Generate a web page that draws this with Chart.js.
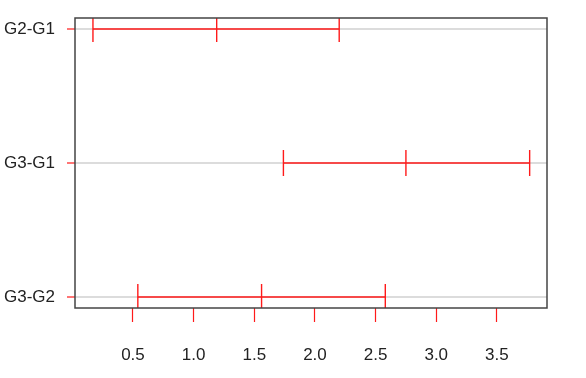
<!DOCTYPE html>
<html>
<head>
<meta charset="utf-8">
<script src="https://cdn.jsdelivr.net/npm/chart.js@4.4.0/dist/chart.umd.min.js"></script>
<style>
  html, body { margin: 0; padding: 0; background: #fff; }
  #wrap { width: 586px; height: 378px; }
</style>
</head>
<body>
<div id="wrap"><canvas id="tukey-chart"></canvas></div>
<script>
// comparisons and interval values (lower, diff, upper)
var comparisons = ["G2-G1", "G3-G1", "G3-G2"];
var lower = [0.17, 1.74, 0.54];
var diff = [1.19, 2.75, 1.56];
var upper = [2.20, 3.77, 2.58];
var xTicks = [0.5, 1.0, 1.5, 2.0, 2.5, 3.0, 3.5];

var red = "#ff1a1a";
var fontFam = "'Liberation Sans', Arial, sans-serif";

var datasets = comparisons.map(function (name, i) {
  return {
    label: name,
    data: [
      { x: lower[i], y: i },
      { x: diff[i], y: i },
      { x: upper[i], y: i },
    ],
    showLine: true,
    borderColor: red,
    borderWidth: 1.6,
    pointStyle: "line",
    pointRotation: 90,
    pointRadius: 13,
    pointHoverRadius: 13,
    pointBorderColor: red,
    pointBorderWidth: 1.4,
  };
});

// full box round the plot
var boxPlugin = {
  id: "plotBox",
  afterDraw: function (chart) {
    var a = chart.chartArea;
    var ctx = chart.ctx;
    ctx.save();
    ctx.strokeStyle = "#444";
    ctx.lineWidth = 1.5;
    ctx.strokeRect(a.left, a.top, a.right - a.left, a.bottom - a.top);
    ctx.restore();
  },
};

var ctx = document.getElementById("tukey-chart").getContext("2d");
var myTukeyChart = new Chart(ctx, {
  type: "scatter",
  data: { datasets: datasets },
  plugins: [boxPlugin],
  options: {
    responsive: true,
    maintainAspectRatio: false,
    animation: false,
    layout: { padding: { top: 18, right: 39, bottom: 0, left: 0 } },
    plugins: {
      legend: { display: false },
      tooltip: { enabled: false },
    },
    scales: {
      x: {
        type: "linear",
        min: 0.022,
        max: 3.913,
        afterBuildTicks: function (scale) {
          scale.ticks = xTicks.map(function (v) { return { value: v }; });
        },
        afterFit: function (scale) {
          scale.height = 70;
          scale.paddingLeft = 0;
          scale.paddingRight = 0;
        },
        grid: {
          drawOnChartArea: false,
          tickColor: red,
          tickLength: 14,
          tickWidth: 1.2,
        },
        border: { display: false },
        ticks: {
          padding: 23,
          color: "#222",
          font: { family: fontFam, size: 17 },
          callback: function (v) { return Number(v).toFixed(1); },
        },
      },
      y: {
        type: "linear",
        reverse: true,
        min: -0.082,
        max: 2.082,
        afterBuildTicks: function (scale) {
          scale.ticks = comparisons.map(function (c, i) { return { value: i }; });
        },
        afterFit: function (scale) {
          scale.width = 75;
          scale.paddingTop = 0;
          scale.paddingBottom = 0;
        },
        grid: {
          color: "#dcdcdc",
          lineWidth: 2,
          tickColor: red,
          tickLength: 8,
          tickWidth: 1.2,
        },
        border: { display: false },
        ticks: {
          padding: 12,
          color: "#222",
          font: { family: fontFam, size: 17 },
          callback: function (v) { return comparisons[v]; },
        },
      },
    },
  },
});
</script>
</body>
</html>
